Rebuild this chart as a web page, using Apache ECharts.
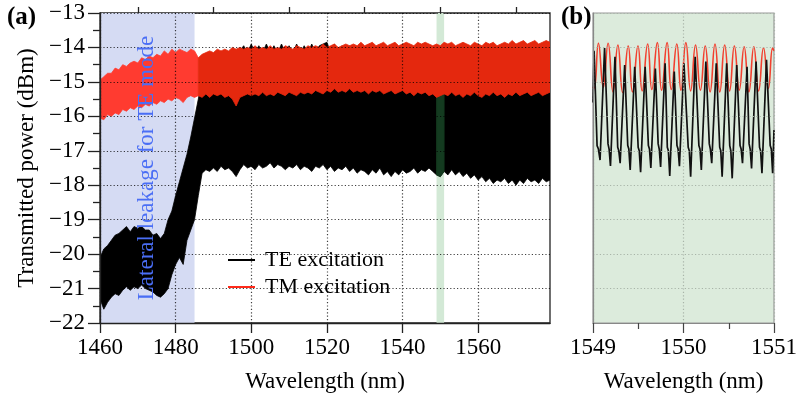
<!DOCTYPE html>
<html><head><meta charset="utf-8">
<script src="https://cdn.jsdelivr.net/npm/echarts@6/dist/echarts.min.js"></script>
<style>html,body{margin:0;padding:0;background:#fff}#c{width:800px;height:400px}</style>
</head><body><div id="c"></div>
<script>
// ---------- Panel (a): envelope of the dense fringes, sampled every 1 nm ----------
const wl = [1460,1461,1462,1463,1464,1465,1466,1467,1468,1469,1470,1471,1472,1473,1474,1475,1476,1477,1478,1479,
1480,1481,1482,1483,1484,1485,1486,1487,1488,1489,1490,1491,1492,1493,1494,1495,1496,1497,1498,1499,
1500,1501,1502,1503,1504,1505,1506,1507,1508,1509,1510,1511,1512,1513,1514,1515,1516,1517,1518,1519,
1520,1521,1522,1523,1524,1525,1526,1527,1528,1529,1530,1531,1532,1533,1534,1535,1536,1537,1538,1539,
1540,1541,1542,1543,1544,1545,1546,1547,1548,1549,1550,1551,1552,1553,1554,1555,1556,1557,1558,1559,
1560,1561,1562,1563,1564,1565,1566,1567,1568,1569,1570,1571,1572,1573,1574,1575,1576,1577,1578,1579];

const teLow = [-21.3,-21.6,-21.4,-21.25,-21.15,-21.2,-21.05,-20.95,-21.05,-20.95,-21.0,-20.9,-21.0,-21.05,-21.1,-21.2,-21.25,-21.15,-21.0,-20.6,
-20.3,-20.1,-20.3,-19.6,-19.3,-19.0,-18.3,-17.65,-17.55,-17.6,-17.5,-17.6,-17.45,-17.55,-17.5,-17.6,-17.75,-17.55,-17.4,-17.5,
-17.45,-17.55,-17.4,-17.5,-17.45,-17.35,-17.5,-17.4,-17.45,-17.55,-17.45,-17.5,-17.4,-17.55,-17.45,-17.5,-17.6,-17.45,-17.5,-17.4,
-17.55,-17.45,-17.6,-17.5,-17.55,-17.45,-17.6,-17.5,-17.65,-17.55,-17.6,-17.7,-17.55,-17.65,-17.5,-17.7,-17.6,-17.75,-17.6,-17.7,
-17.55,-17.65,-17.6,-17.5,-17.65,-17.55,-17.6,-17.5,-17.6,-17.7,-17.75,-17.6,-17.7,-17.55,-17.7,-17.6,-17.75,-17.65,-17.8,-17.7,
-17.85,-17.75,-17.9,-17.8,-17.95,-17.85,-17.9,-17.8,-17.95,-17.85,-18.0,-17.85,-17.95,-17.8,-17.9,-17.85,-17.95,-17.8,-17.9,-17.85];

const teUp = [-20.1,-19.85,-19.75,-19.6,-19.45,-19.4,-19.3,-19.2,-19.35,-19.2,-19.25,-19.2,-19.3,-19.3,-19.45,-19.4,-19.55,-19.4,-19.0,-18.75,
-18.3,-17.9,-17.5,-17.1,-16.6,-16.05,-15.5,-14.9,-14.55,-14.45,-14.35,-14.3,-14.25,-14.3,-14.2,-14.2,-14.15,-14.1,-13.95,-14.15,
-13.9,-14.15,-13.95,-14.15,-13.9,-14.15,-13.95,-14.15,-13.9,-14.15,-13.95,-14.15,-13.9,-14.15,-13.95,-14.15,-13.9,-14.15,-13.95,-13.9,
-13.85,-14.15,-13.9,-14.15,-13.95,-14.1,-13.95,-14.1,-14.0,-14.05,-14.05,-14.1,-14.05,-14.1,-14.05,-14.1,-14.05,-14.1,-14.05,-14.1,
-14.05,-14.1,-14.05,-14.1,-14.05,-14.1,-14.05,-14.1,-14.05,-14.1,-14.05,-14.1,-14.05,-14.1,-14.05,-14.1,-14.05,-14.1,-14.05,-14.1,
-14.05,-14.1,-14.05,-14.1,-14.05,-14.1,-14.05,-14.1,-14.05,-14.1,-14.05,-14.1,-14.05,-14.1,-14.05,-14.1,-14.05,-14.1,-14.05,-14.1];

const tmUp = [-14.95,-14.85,-14.75,-14.75,-14.6,-14.65,-14.5,-14.55,-14.45,-14.4,-14.45,-14.3,-14.35,-14.25,-14.3,-14.2,-14.25,-14.1,-14.2,-14.05,
-14.15,-14.05,-14.1,-14.15,-14.05,-14.1,-14.3,-14.2,-14.15,-14.1,-14.15,-14.05,-14.1,-14.05,-14.1,-14.0,-14.05,-14.0,-14.05,-14.0,
-14.05,-13.95,-14.05,-14.0,-14.05,-13.95,-14.05,-14.0,-14.05,-13.95,-14.0,-14.05,-13.95,-14.0,-14.05,-13.95,-14.0,-13.95,-14.0,-13.9,
-14.0,-13.95,-13.9,-14.0,-13.95,-13.9,-13.95,-13.9,-13.95,-13.85,-13.95,-13.9,-13.85,-13.95,-13.9,-13.85,-13.95,-13.9,-13.85,-13.95,
-13.9,-13.85,-13.9,-13.95,-13.85,-13.9,-13.85,-13.9,-13.95,-13.9,-13.95,-13.85,-13.9,-13.85,-13.95,-13.9,-13.85,-13.9,-13.95,-13.85,
-13.9,-13.95,-13.85,-13.9,-13.85,-13.95,-13.9,-13.85,-13.9,-13.8,-13.9,-13.85,-13.8,-13.9,-13.85,-13.8,-13.9,-13.85,-13.8,-13.85];

const tmLow = [-16.05,-16.1,-15.95,-16.0,-15.9,-15.95,-15.8,-15.85,-15.75,-15.8,-15.7,-15.75,-15.65,-15.7,-15.6,-15.65,-15.55,-15.6,-15.5,-15.55,
-15.45,-15.5,-15.6,-15.45,-15.4,-15.45,-15.4,-15.45,-15.35,-15.45,-15.35,-15.4,-15.35,-15.45,-15.4,-15.5,-15.7,-15.45,-15.4,-15.35,
-15.4,-15.35,-15.4,-15.3,-15.4,-15.35,-15.4,-15.3,-15.35,-15.4,-15.3,-15.35,-15.4,-15.3,-15.35,-15.3,-15.35,-15.25,-15.3,-15.35,
-15.25,-15.3,-15.2,-15.3,-15.25,-15.3,-15.2,-15.3,-15.25,-15.3,-15.25,-15.35,-15.25,-15.3,-15.25,-15.35,-15.3,-15.25,-15.35,-15.3,
-15.25,-15.35,-15.3,-15.4,-15.3,-15.35,-15.3,-15.4,-15.35,-15.45,-15.4,-15.35,-15.4,-15.3,-15.4,-15.35,-15.45,-15.35,-15.4,-15.3,
-15.4,-15.45,-15.35,-15.4,-15.3,-15.4,-15.35,-15.45,-15.35,-15.4,-15.3,-15.4,-15.35,-15.3,-15.4,-15.35,-15.3,-15.4,-15.35,-15.3];

// ---------- Panel (b): zoom 1549–1551 nm ----------
const tmB_x = [1549.000,1549.014,1549.060,1549.114,1549.167,1549.221,1549.275,1549.328,1549.389,1549.436,1549.497,1549.543,1549.604,1549.650,1549.711,1549.758,1549.819,1549.865,1549.926,1549.972,
1550.026,1550.079,1550.133,1550.187,1550.240,1550.294,1550.348,1550.401,1550.455,1550.509,1550.562,1550.616,1550.670,1550.723,1550.777,1550.830,1550.884,1550.938,1550.985,1551.000];
const tmB_y = [-15.15,-15.19,-13.88,-15.16,-13.88,-15.29,-13.93,-15.31,-13.96,-15.29,-13.96,-15.26,-13.90,-15.22,-13.86,-15.24,-13.86,-15.22,-13.90,-15.24,
-13.86,-15.26,-13.93,-15.24,-13.96,-15.29,-13.90,-15.29,-13.93,-15.26,-13.96,-15.24,-13.98,-15.29,-13.98,-15.26,-14.01,-15.19,-14.02,-14.10];

const teB_x = [1549.000,1549.012,1549.045,1549.060,1549.078,
1549.128,1549.166,1549.178,1549.193,
1549.243,1549.273,1549.285,1549.300,
1549.350,1549.384,1549.396,1549.411,
1549.461,1549.499,1549.511,1549.526,
1549.576,1549.612,1549.624,1549.639,
1549.689,1549.720,1549.732,1549.747,
1549.797,1549.821,1549.833,1549.848,
1549.898,1549.928,1549.940,1549.955,
1550.005,1550.052,1550.064,1550.079,
1550.129,1550.170,1550.182,1550.197,
1550.247,1550.285,1550.297,1550.312,
1550.362,1550.400,1550.412,1550.427,
1550.477,1550.511,1550.523,1550.538,
1550.588,1550.625,1550.637,1550.652,
1550.702,1550.725,1550.737,1550.752,
1550.802,1550.840,1550.852,1550.867,
1550.917,1550.958,1550.970,1550.985,
1551.000];
const teB_y = [-15.6,-14.10,-16.85,-16.95,-17.27,
-14.02,-16.80,-16.95,-17.44,
-14.27,-16.90,-17.00,-17.36,
-14.51,-16.85,-16.95,-17.56,
-14.56,-16.90,-17.00,-17.62,
-14.56,-16.85,-16.95,-17.50,
-14.61,-16.80,-16.95,-17.47,
-14.46,-16.90,-17.00,-17.73,
-14.70,-16.85,-16.95,-17.45,
-14.46,-16.90,-17.00,-17.75,
-14.27,-16.85,-16.95,-17.56,
-14.41,-16.80,-16.95,-17.36,
-14.46,-16.90,-17.00,-17.75,
-14.46,-16.85,-17.00,-17.80,
-14.51,-16.85,-16.95,-17.36,
-14.56,-16.80,-16.95,-17.51,
-14.41,-16.90,-17.00,-17.65,
-14.36,-16.85,-16.95,-17.65,
-16.40];

const xTicksA = [1460,1480,1500,1520,1540,1560];
const xMinorA = [1470,1490,1510,1530,1550,1570];

// ---------- build ----------
const FONT = '"Liberation Serif","DejaVu Serif",serif';
const FS = 23;
const pair = (xs, ys) => xs.map((x, i) => [x, ys[i]]);
const minus = v => String(v).replace('-', '\u2212');

// a filled band between two envelopes, drawn through the axis scales (api.coord)
function bandSeries(name, lo, up, a, b, color, z) {
  const idx = wl.map((x, i) => i).filter(i => wl[i] >= a && wl[i] <= b);
  return {
    name: name, type: 'custom', xAxisIndex: 0, yAxisIndex: 0, z: z, silent: true, clip: true,
    itemStyle: {color: color},
    data: [[wl[idx[0]], lo[idx[0]]]],
    encode: {x: 0, y: 1},
    renderItem: function (params, api) {
      const pts = [];
      idx.forEach(i => pts.push(api.coord([wl[i], up[i]])));
      idx.slice().reverse().forEach(i => pts.push(api.coord([wl[i], lo[i]])));
      return {type: 'polygon', shape: {points: pts},
              style: {fill: color, stroke: color, lineWidth: 0.8, lineJoin: 'miter'}};
    }
  };
}

const chart = echarts.init(document.getElementById('c'), null, {renderer: 'canvas'});
const dotted = (c) => ({show: true, lineStyle: {color: c, width: 1.2, type: [1.2, 2.2]}});

const series = [
  {name: 'regions', type: 'line', xAxisIndex: 0, yAxisIndex: 0, data: [], silent: true,
   markArea: {silent: true, data: [
     [{xAxis: 1460, itemStyle: {color: '#d5dbf3'}}, {xAxis: 1485}],
     [{xAxis: 1549, itemStyle: {color: '#d3e9d6'}}, {xAxis: 1551}]
   ]}},
  bandSeries('TE excitation', teLow, teUp, 1460, 1579, '#000', 2),
  bandSeries('TE excitation', teLow, teUp, 1549, 1551, '#143b20', 2),
  bandSeries('TM excitation', tmLow, tmUp, 1460, 1486, '#ff3b30', 4),
  bandSeries('TM excitation', tmLow, tmUp, 1486, 1579, '#e4280e', 4),
  {name: 'TM excitation', type: 'line', xAxisIndex: 1, yAxisIndex: 1, data: pair(tmB_x, tmB_y), smooth: 0.5,
   symbol: 'none', silent: true, z: 3, itemStyle: {color: '#f2402f'}, lineStyle: {width: 1.6, color: '#f2402f'}},
  {name: 'TE excitation', type: 'line', xAxisIndex: 1, yAxisIndex: 1, data: pair(teB_x, teB_y),
   symbol: 'none', silent: true, z: 4, itemStyle: {color: '#111'}, lineStyle: {width: 1.7, color: '#111'}}
];

chart.setOption({
  animation: false,
  backgroundColor: '#fff',
  textStyle: {fontFamily: FONT},
  title: [
    {text: '(a)', left: 2, top: 0, textStyle: {fontFamily: FONT, fontWeight: 'bold', fontSize: 25, color: '#000'}},
    {text: '(b)', left: 556, top: 0, textStyle: {fontFamily: FONT, fontWeight: 'bold', fontSize: 25, color: '#000'}}
  ],
  grid: [
    {left: 100, top: 13, width: 450, height: 310, show: true, borderColor: '#222', borderWidth: 1.3, backgroundColor: 'transparent'},
    {left: 593, top: 13, width: 186, height: 310, show: true, borderColor: '#9a9a9a', borderWidth: 1.2, backgroundColor: '#dcebdc'}
  ],
  xAxis: [
    {gridIndex: 0, type: 'value', min: 1460, max: 1579, interval: 20, z: 6,
     name: 'Wavelength (nm)', nameLocation: 'middle', nameGap: 47,
     nameTextStyle: {fontFamily: FONT, fontSize: FS, color: '#000'},
     axisLine: {lineStyle: {color: '#222', width: 1.3}},
     axisTick: {customValues: xTicksA, length: 10, lineStyle: {color: '#222', width: 1.3}},
     axisLabel: {customValues: xTicksA, margin: 13, fontFamily: FONT, fontSize: FS, color: '#000', formatter: v => String(v)},
     splitLine: dotted('rgba(0,0,0,0.75)')},
    {gridIndex: 1, type: 'value', min: 1549, max: 1551, interval: 1, z: 6,
     name: 'Wavelength (nm)', nameLocation: 'middle', nameGap: 47,
     nameTextStyle: {fontFamily: FONT, fontSize: FS, color: '#000'},
     axisLine: {lineStyle: {color: '#888', width: 1.2}},
     axisTick: {length: 10, lineStyle: {color: '#444', width: 1.2}},
     minorTick: {show: true, splitNumber: 2, length: 6, lineStyle: {color: '#444', width: 1.2}},
     axisLabel: {margin: 13, fontFamily: FONT, fontSize: FS, color: '#000', formatter: v => String(v)},
     splitLine: dotted('#a8b4a8')},
    {gridIndex: 0, type: 'value', min: 1460, max: 1579, interval: 10, z: 6,
     axisLine: {show: false}, axisLabel: {show: false}, splitLine: {show: false},
     axisTick: {customValues: xMinorA, length: 6, lineStyle: {color: '#222', width: 1.3}}}
  ],
  yAxis: [
    {gridIndex: 0, type: 'value', min: -22, max: -13, interval: 1, z: 6,
     name: 'Transmitted power (dBm)', nameLocation: 'middle', nameGap: 61,
     nameTextStyle: {fontFamily: FONT, fontSize: FS, color: '#000'},
     axisLine: {show: true, lineStyle: {color: '#222', width: 1.3}},
     axisTick: {show: true, length: 12, lineStyle: {color: '#222', width: 1.3}},
     minorTick: {show: true, splitNumber: 2, length: 7, lineStyle: {color: '#222', width: 1.3}},
     axisLabel: {margin: 15, fontFamily: FONT, fontSize: FS, color: '#000', formatter: minus},
     splitLine: dotted('rgba(0,0,0,0.75)')},
    {gridIndex: 1, type: 'value', min: -22, max: -13, interval: 1, z: 6,
     axisLine: {show: true, lineStyle: {color: '#888', width: 1.2}},
     axisTick: {show: false}, axisLabel: {show: false},
     splitLine: dotted('#a8b4a8')}
  ],
  legend: {
    left: 223, top: 244, orient: 'vertical', icon: 'rect', itemWidth: 27, itemHeight: 2, itemGap: 5,
    selectedMode: false, z: 7,
    textStyle: {fontFamily: FONT, fontSize: 22, color: '#000', lineHeight: 22, padding: [0, 0, 0, 5]},
    data: [{name: 'TE excitation', itemStyle: {color: '#000'}}, {name: 'TM excitation', itemStyle: {color: '#ff2a1a'}}]
  },
  graphic: {
    z: 8,
    elements: [{
      type: 'text', x: 147, y: 168, rotation: Math.PI / 2, z: 8, silent: true,
      style: {text: 'Lateral leakage for TE mode', fill: '#4a6ef5', font: '23px ' + FONT, align: 'center', verticalAlign: 'middle'}
    }]
  },
  series: series
});
</script>
</body></html>
